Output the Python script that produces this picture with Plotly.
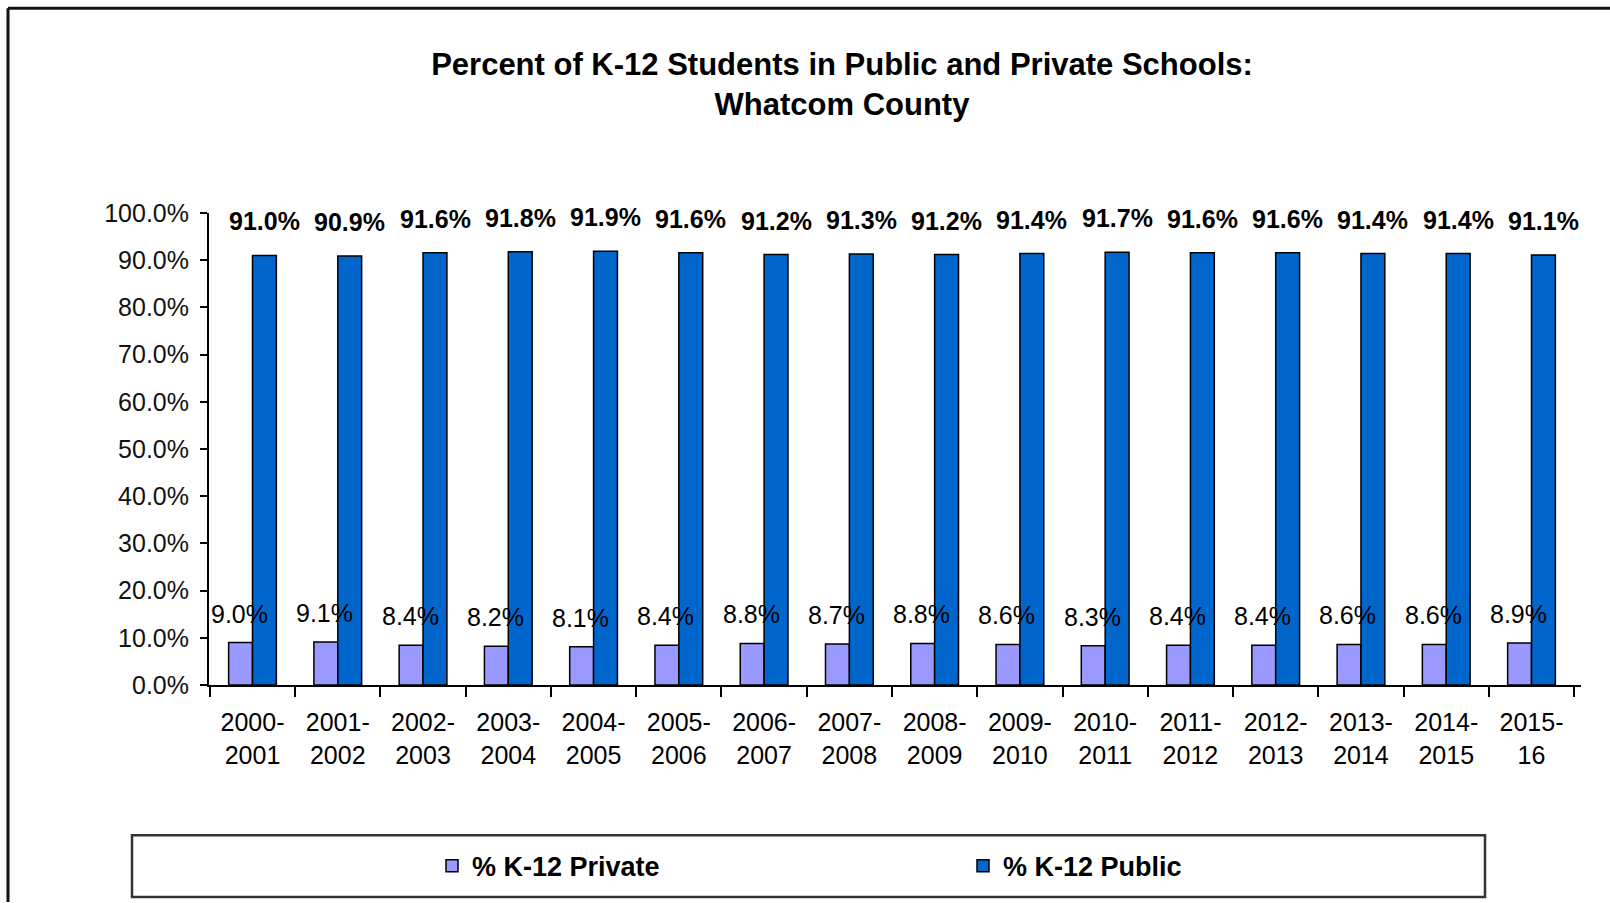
import plotly.graph_objects as go

# ---- data ----
categories = ["2000-2001", "2001-2002", "2002-2003", "2003-2004", "2004-2005",
              "2005-2006", "2006-2007", "2007-2008", "2008-2009", "2009-2010",
              "2010-2011", "2011-2012", "2012-2013", "2013-2014", "2014-2015",
              "2015-16"]
private_pct = [9.0, 9.1, 8.4, 8.2, 8.1, 8.4, 8.8, 8.7, 8.8, 8.6, 8.3, 8.4, 8.4, 8.6, 8.6, 8.9]
public_pct = [91.0, 90.9, 91.6, 91.8, 91.9, 91.6, 91.2, 91.3, 91.2, 91.4, 91.7, 91.6, 91.6, 91.4, 91.4, 91.1]
tick_text = [c.replace("-", "-<br>", 1) for c in categories]
y_ticks = [0, 10, 20, 30, 40, 50, 60, 70, 80, 90, 100]
y_tick_text = [f"{v:.1f}%" for v in y_ticks]

W, H = 1610, 903
L, R, T, B = 209, 1581, 213, 687  # plot area in px


def px_x(px):
    return (px - L) / (R - L)


def px_y(py):
    return (B - py) / (B - T)


REG = "Liberation Sans, Arial, sans-serif"

fig = go.Figure()
fig.add_trace(go.Bar(
    x=categories, y=private_pct, name="% K-12 Private",
    marker=dict(color="#9999FF", line=dict(color="#000000", width=1.5)),
))
fig.add_trace(go.Bar(
    x=categories, y=public_pct, name="% K-12 Public",
    marker=dict(color="#0066CC", line=dict(color="#000000", width=1.5)),
))

annotations = []
for c, v in zip(categories, private_pct):
    annotations.append(dict(x=c, y=v, xref="x", yref="y", text=f"{v:.1f}%",
                            showarrow=False, xshift=-13, yshift=29, yanchor="middle",
                            font=dict(family=REG, size=25, color="#000000")))
for c, v in zip(categories, public_pct):
    annotations.append(dict(x=c, y=v, xref="x", yref="y", text=f"{v:.1f}%",
                            showarrow=False, xshift=12, yshift=34, yanchor="middle",
                            font=dict(family=REG, size=25, color="#000000", weight="bold")))

shapes = [
    # outer frame (top and left)
    dict(type="line", xref="paper", yref="paper", x0=px_x(8), x1=px_x(1612),
         y0=px_y(7.5), y1=px_y(7.5), line=dict(color="#111111", width=3)),
    dict(type="line", xref="paper", yref="paper", x0=px_x(8), x1=px_x(8),
         y0=px_y(7.5), y1=px_y(905), line=dict(color="#111111", width=3)),
    # legend box
    dict(type="rect", xref="paper", yref="paper", x0=px_x(132), x1=px_x(1485),
         y0=px_y(900), y1=px_y(838), line=dict(color="#333333", width=2.5),
         fillcolor="rgba(0,0,0,0)"),
]

fig.update_layout(
    width=W, height=H,
    margin=dict(l=L, r=W - R, t=T, b=H - B, pad=0),
    paper_bgcolor="white", plot_bgcolor="white",
    barmode="group", bargap=0.44, bargroupgap=0,
    title=dict(text="Percent of K-12 Students in Public and Private Schools:<br>Whatcom County",
               x=842 / W, xanchor="center", xref="container",
               y=1 - 75 / H, yanchor="top", yref="container",
               font=dict(family=REG, size=31, color="#000000", weight="bold")),
    xaxis=dict(tickmode="array", tickvals=categories, ticktext=tick_text,
               showline=True, linecolor="#000000", linewidth=2,
               ticks="outside", tickson="boundaries", ticklen=10, tickwidth=2,
               tickcolor="#000000", showgrid=False, ticklabelstandoff=14,
               tickfont=dict(family=REG, size=25, color="#000000")),
    yaxis=dict(range=[0, 100], tickmode="array", tickvals=y_ticks, ticktext=y_tick_text,
               showline=True, linecolor="#000000", linewidth=2,
               ticks="outside", ticklen=7, tickwidth=2, tickcolor="#000000",
               showgrid=False, zeroline=False, ticklabelstandoff=6,
               tickfont=dict(family=REG, size=25, color="#111111")),
    legend=dict(orientation="h", x=px_x(432), xanchor="left",
                y=px_y(869), yanchor="middle", entrywidth=486,
                bgcolor="rgba(0,0,0,0)", borderwidth=0,
                font=dict(family=REG, size=27, color="#000000", weight="bold")),
    annotations=annotations,
    shapes=shapes,
    showlegend=True,
)

fig.write_html("out.html")
